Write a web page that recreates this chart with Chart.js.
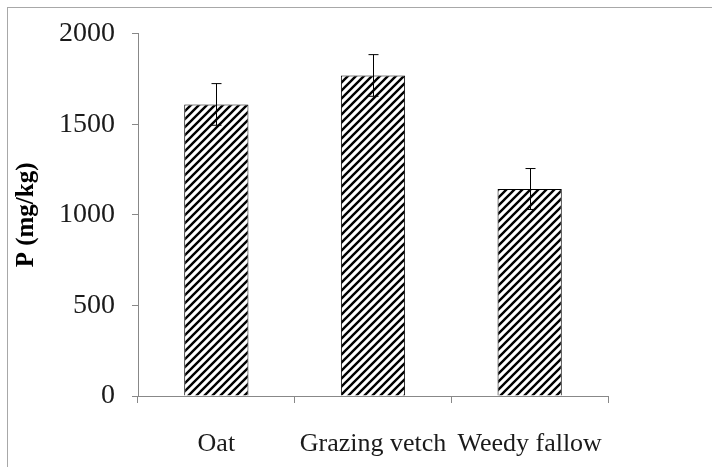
<!DOCTYPE html>
<html>

<head>
    <title>P (mg/kg) bar chart</title>
    <script src="https://cdn.jsdelivr.net/npm/chart.js"></script>
    <style>
        body {
            margin: 0;
            overflow: hidden;
            background: #fff;
        }

        .frame {
            position: absolute;
            left: 7px;
            top: 7px;
            width: 760px;
            height: 520px;
            border: 1px solid #a8a8a8;
        }

        .chart-wrap {
            position: absolute;
            left: 0;
            top: 0;
            width: 712px;
            height: 467px;
        }
    </style>
</head>

<body>
    <div class="frame"></div>
    <div class="chart-wrap"><canvas id="myChart"></canvas></div>

    <script>
        // data
        const categories = ["Oat", "Grazing vetch", "Weedy fallow"];
        const values = [1610, 1770, 1143];
        const errors = [115, 115, 113];
        const yTicks = [0, 500, 1000, 1500, 2000];

        const serif = "'Liberation Serif', 'Times New Roman', serif";
        Chart.defaults.font.family = serif;
        Chart.defaults.color = '#1a1a1a';

        // diagonal hatch fill like the original
        function hatch() {
            const s = 8;
            const c = document.createElement('canvas');
            c.width = s;
            c.height = s;
            const g = c.getContext('2d');
            g.fillStyle = '#fff';
            g.fillRect(0, 0, s, s);
            g.strokeStyle = '#000';
            g.lineWidth = 2.4;
            g.beginPath();
            g.moveTo(-2, s + 2); g.lineTo(s + 2, -2);
            g.moveTo(-2, 2); g.lineTo(2, -2);
            g.moveTo(s - 2, s + 2); g.lineTo(s + 2, s - 2);
            g.stroke();
            return g.createPattern(c, 'repeat');
        }

        const errorBars = {
            id: 'errorBars',
            afterDatasetsDraw(chart) {
                const ctx = chart.ctx;
                const y = chart.scales.y;
                const meta = chart.getDatasetMeta(0);
                ctx.save();
                ctx.strokeStyle = '#000';
                ctx.lineWidth = 1;
                meta.data.forEach((bar, i) => {
                    const x = Math.round(bar.x) + 0.5;
                    const top = y.getPixelForValue(values[i] + errors[i]);
                    const bot = y.getPixelForValue(values[i] - errors[i]);
                    ctx.beginPath();
                    ctx.moveTo(x, top); ctx.lineTo(x, bot);
                    ctx.moveTo(x - 5, top); ctx.lineTo(x + 5, top);
                    ctx.moveTo(x - 5, bot); ctx.lineTo(x + 5, bot);
                    ctx.stroke();
                });
                ctx.restore();
            }
        };

        new Chart(document.getElementById('myChart'), {
            type: 'bar',
            data: {
                labels: categories,
                datasets: [{
                    data: values,
                    backgroundColor: hatch(),
                    borderColor: '#000',
                    borderWidth: 1,
                    categoryPercentage: 1,
                    barPercentage: 0.41,
                }]
            },
            options: {
                responsive: true,
                maintainAspectRatio: false,
                animation: false,
                layout: {
                    padding: { left: 0, right: 104, top: 33, bottom: 0 }
                },
                scales: {
                    x: {
                        grid: {
                            drawOnChartArea: false,
                            color: '#888',
                            tickLength: 7,
                            offset: true,
                        },
                        border: { color: '#888' },
                        ticks: {
                            font: { family: serif, size: 26 },
                            color: '#1a1a1a',
                            padding: 26,
                        },
                        afterFit: (s) => { s.height = 71; }
                    },
                    y: {
                        min: 0,
                        max: 2000,
                        afterBuildTicks: (s) => { s.ticks = yTicks.map(v => ({ value: v })); },
                        grid: {
                            drawOnChartArea: false,
                            color: '#888',
                            tickLength: 6,
                        },
                        border: { color: '#888' },
                        ticks: {
                            font: { family: serif, size: 28 },
                            padding: 17,
                            callback: (v) => String(v),
                        },
                        title: {
                            display: true,
                            text: 'P (mg/kg)',
                            font: { family: serif, size: 25, weight: 'bold' },
                            color: '#000',
                            padding: { top: 12, bottom: 0 },
                        },
                        afterFit: (s) => { s.width = 138; }
                    }
                },
                plugins: {
                    legend: { display: false },
                    tooltip: { enabled: false }
                }
            },
            plugins: [errorBars]
        });
    </script>
</body>

</html>
